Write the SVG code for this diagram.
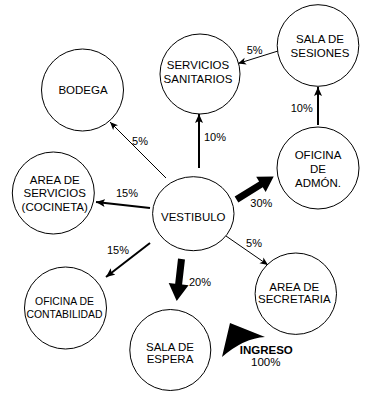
<svg xmlns="http://www.w3.org/2000/svg" width="367" height="393" viewBox="0 0 367 393">
<style>
.n{fill:#fff;stroke:#000;stroke-width:1}
.t{font-family:"Liberation Sans",Arial,sans-serif;font-size:11.5px;fill:#000;text-anchor:middle}
.s{font-size:10.4px}
.l{font-family:"Liberation Sans",Arial,sans-serif;font-size:11px;fill:#000;text-anchor:middle}
.b{font-weight:bold}
.c1{stroke:#000;stroke-width:1;fill:none}
.c2{stroke:#000;stroke-width:2;fill:none}
</style>
<defs>
<marker id="a1" markerUnits="userSpaceOnUse" markerWidth="9" markerHeight="8" refX="8" refY="4" orient="auto">
<path d="M0,0.5 L8,4 L0,7.5 L2,4 Z" fill="#000"/>
</marker>
<marker id="a2" markerUnits="userSpaceOnUse" markerWidth="10" markerHeight="9" refX="9" refY="4.5" orient="auto">
<path d="M0,0.5 L9,4.5 L0,8.5 L2,4.5 Z" fill="#000"/>
</marker>
</defs>
<g id="connectors">
<line class="c1" x1="166" y1="178" x2="110" y2="122" marker-end="url(#a1)"/>
<line class="c2" x1="199" y1="168" x2="199" y2="114" marker-end="url(#a2)"/>
<line class="c1" x1="278" y1="51" x2="238" y2="63.5" marker-end="url(#a1)"/>
<line class="c2" x1="318" y1="125" x2="318" y2="87" marker-end="url(#a2)"/>
<line class="c2" x1="150" y1="208" x2="96" y2="202" marker-end="url(#a2)"/>
<line class="c2" x1="150" y1="243" x2="106" y2="277" marker-end="url(#a2)"/>
<line class="c1" x1="226" y1="236" x2="268" y2="265" marker-end="url(#a1)"/>
<polygon fill="#000" points="184.98,259.40 182.11,284.51 188.57,285.25 176.7,301 168.70,282.98 175.15,283.71 178.02,258.60"/>
<polygon fill="#000" points="238.34,202.48 262.77,187.37 265.66,192.05 273.7,176.5 256.20,176.73 259.09,181.41 234.66,196.52"/>
<path id="ingreso-arrow" fill="#000" d="M230,323 L265,337 Q244,338 222,357 Z"/>
<text class="l" x="140" y="144.6">5%</text>
<text class="l" x="215" y="140.9">10%</text>
<text class="l" x="254.7" y="53.9">5%</text>
<text class="l" x="301.7" y="112.2">10%</text>
<text class="l" x="127" y="196.6">15%</text>
<text class="l" x="118" y="253.9">15%</text>
<text class="l" x="261.3" y="207.2">30%</text>
<text class="l" x="200" y="285.6">20%</text>
<text class="l" x="254" y="247.2">5%</text>
</g>
<g id="bodega">
<circle class="n" cx="82.5" cy="90" r="41"/>
<text class="t" x="83" y="94">BODEGA</text>
</g>
<g id="servicios-sanitarios">
<circle class="n" cx="200" cy="74" r="40"/>
<text class="t" x="198" y="69">SERVICIOS</text>
<text class="t" x="198" y="83.3">SANITARIOS</text>
</g>
<g id="sala-de-sesiones">
<circle class="n" cx="318" cy="45.5" r="40.8"/>
<text class="t" x="320" y="43.3">SALA DE</text>
<text class="t" x="320" y="57.3">SESIONES</text>
</g>
<g id="oficina-de-admon">
<circle class="n" cx="318" cy="168" r="41"/>
<text class="t" x="318" y="159">OFICINA</text>
<text class="t" x="318" y="173">DE</text>
<text class="t" x="318" y="187">ADMÓN.</text>
</g>
<g id="vestibulo">
<ellipse class="n" cx="193.3" cy="213.7" rx="40.7" ry="37"/>
<text class="t" x="193.3" y="220.7">VESTIBULO</text>
</g>
<g id="area-de-servicios">
<circle class="n" cx="53.3" cy="193" r="41"/>
<text class="t" x="54.7" y="184">AREA DE</text>
<text class="t" x="54.7" y="197.3">SERVICIOS</text>
<text class="t" x="54.7" y="211.3">(COCINETA)</text>
</g>
<g id="oficina-de-contabilidad">
<circle class="n" cx="65.5" cy="308" r="41"/>
<text class="t s" x="64.5" y="304.7">OFICINA DE</text>
<text class="t s" x="64.5" y="318">CONTABILIDAD</text>
</g>
<g id="sala-de-espera">
<circle class="n" cx="170.3" cy="350" r="40.5"/>
<text class="t" x="170" y="350.7">SALA DE</text>
<text class="t" x="170" y="363.2">ESPERA</text>
</g>
<g id="area-de-secretaria">
<circle class="n" cx="295.8" cy="293.7" r="40.7"/>
<text class="t" x="294.3" y="290.7">AREA DE</text>
<text class="t" x="294.3" y="303.3">SECRETARIA</text>
</g>
<g id="ingreso">
<text class="t b" x="266.3" y="354">INGRESO</text>
<text class="t" x="265.7" y="366.3">100%</text>
</g>
</svg>
